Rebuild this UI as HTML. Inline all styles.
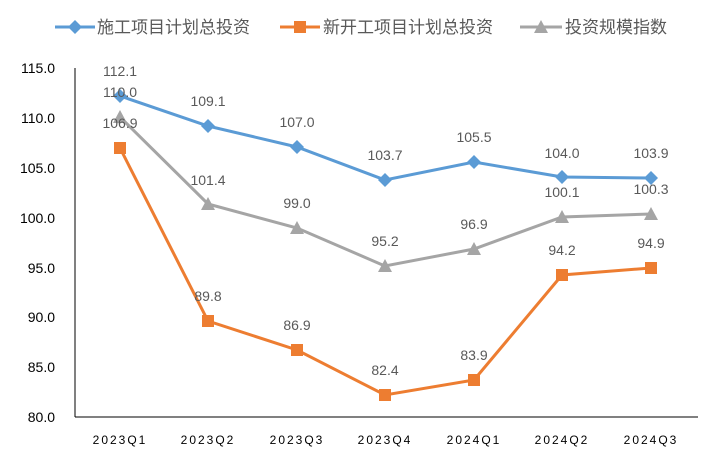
<!DOCTYPE html>
<html><head><meta charset="utf-8"><style>
body{margin:0;background:#fff}
svg text{font-family:"Liberation Sans","Noto Sans CJK SC",sans-serif}
</style></head><body>
<svg width="715" height="462" viewBox="0 0 715 462" xmlns="http://www.w3.org/2000/svg">
<rect width="715" height="462" fill="#fff"/>
<!-- legend -->
<g font-size="17" fill="#595959">
<line x1="55" y1="27" x2="95" y2="27" stroke="#5b9bd5" stroke-width="3"/>
<path d="M75 20 L82 27 L75 34 L68 27Z" fill="#5b9bd5"/>
<text x="97" y="33">施工项目计划总投资</text>
<line x1="280" y1="27" x2="320" y2="27" stroke="#ed7d31" stroke-width="3"/>
<rect x="294" y="21" width="12" height="12" fill="#ed7d31"/>
<text x="323" y="33">新开工项目计划总投资</text>
<line x1="520" y1="27" x2="562" y2="27" stroke="#a5a5a5" stroke-width="3"/>
<path d="M541 20 L548 33 L534 33Z" fill="#a5a5a5"/>
<text x="565" y="33">投资规模指数</text>
</g>
<!-- axes -->
<line x1="75" y1="68" x2="75" y2="417" stroke="#000" stroke-width="1"/>
<line x1="75" y1="417" x2="698" y2="417" stroke="#000" stroke-width="1"/>
<g font-size="14" fill="#000" text-anchor="end">
<text x="55" y="73">115.0</text><text x="55" y="123">110.0</text><text x="55" y="173">105.0</text><text x="55" y="223">100.0</text>
<text x="55" y="273">95.0</text><text x="55" y="322">90.0</text><text x="55" y="372">85.0</text><text x="55" y="422">80.0</text>
</g>
<g font-size="12" fill="#000" text-anchor="middle" letter-spacing="2">
<text x="120" y="444">2023Q1</text><text x="208" y="444">2023Q2</text><text x="297" y="444">2023Q3</text><text x="385" y="444">2023Q4</text>
<text x="474" y="444">2024Q1</text><text x="562" y="444">2024Q2</text><text x="651" y="444">2024Q3</text>
</g>
<!-- gray -->
<polyline fill="none" stroke="#a5a5a5" stroke-width="3" points="120,117 208,204 297,228 385,266 474,249 562,217 651,214"/>
<g fill="#a5a5a5">
<path d="M120 110 L127 123 L113 123Z"/><path d="M208 197 L215 210 L201 210Z"/><path d="M297 221 L304 234 L290 234Z"/><path d="M385 259 L392 272 L378 272Z"/><path d="M474 242 L481 255 L467 255Z"/><path d="M562 210 L569 223 L555 223Z"/><path d="M651 207 L658 220 L644 220Z"/>
</g>
<!-- orange -->
<polyline fill="none" stroke="#ed7d31" stroke-width="3" points="120,148 208,321 297,350 385,395 474,380 562,275 651,268"/>
<g fill="#ed7d31">
<rect x="114" y="142" width="12" height="12"/><rect x="202" y="315" width="12" height="12"/><rect x="291" y="344" width="12" height="12"/><rect x="379" y="389" width="12" height="12"/><rect x="468" y="374" width="12" height="12"/><rect x="556" y="269" width="12" height="12"/><rect x="645" y="262" width="12" height="12"/>
</g>
<!-- blue -->
<polyline fill="none" stroke="#5b9bd5" stroke-width="3" points="120,96 208,126 297,147 385,180 474,162 562,177 651,178"/>
<g fill="#5b9bd5">
<path d="M120 89 L127 96 L120 103 L113 96Z"/><path d="M208 119 L215 126 L208 133 L201 126Z"/><path d="M297 140 L304 147 L297 154 L290 147Z"/><path d="M385 173 L392 180 L385 187 L378 180Z"/><path d="M474 155 L481 162 L474 169 L467 162Z"/><path d="M562 170 L569 177 L562 184 L555 177Z"/><path d="M651 171 L658 178 L651 185 L644 178Z"/>
</g>
<!-- labels -->
<g font-size="14" fill="#595959" text-anchor="middle">
<text x="120" y="76">112.1</text><text x="208" y="106">109.1</text><text x="297" y="127">107.0</text><text x="385" y="160">103.7</text><text x="474" y="142">105.5</text><text x="562" y="158">104.0</text><text x="651" y="158">103.9</text>
<text x="120" y="97">110.0</text><text x="208" y="185">101.4</text><text x="297" y="208">99.0</text><text x="385" y="246">95.2</text><text x="474" y="229">96.9</text><text x="562" y="197">100.1</text><text x="651" y="194">100.3</text>
<text x="120" y="128">106.9</text><text x="208" y="301">89.8</text><text x="297" y="330">86.9</text><text x="385" y="375">82.4</text><text x="474" y="360">83.9</text><text x="562" y="255">94.2</text><text x="651" y="248">94.9</text>
</g>
</svg>
</body></html>
